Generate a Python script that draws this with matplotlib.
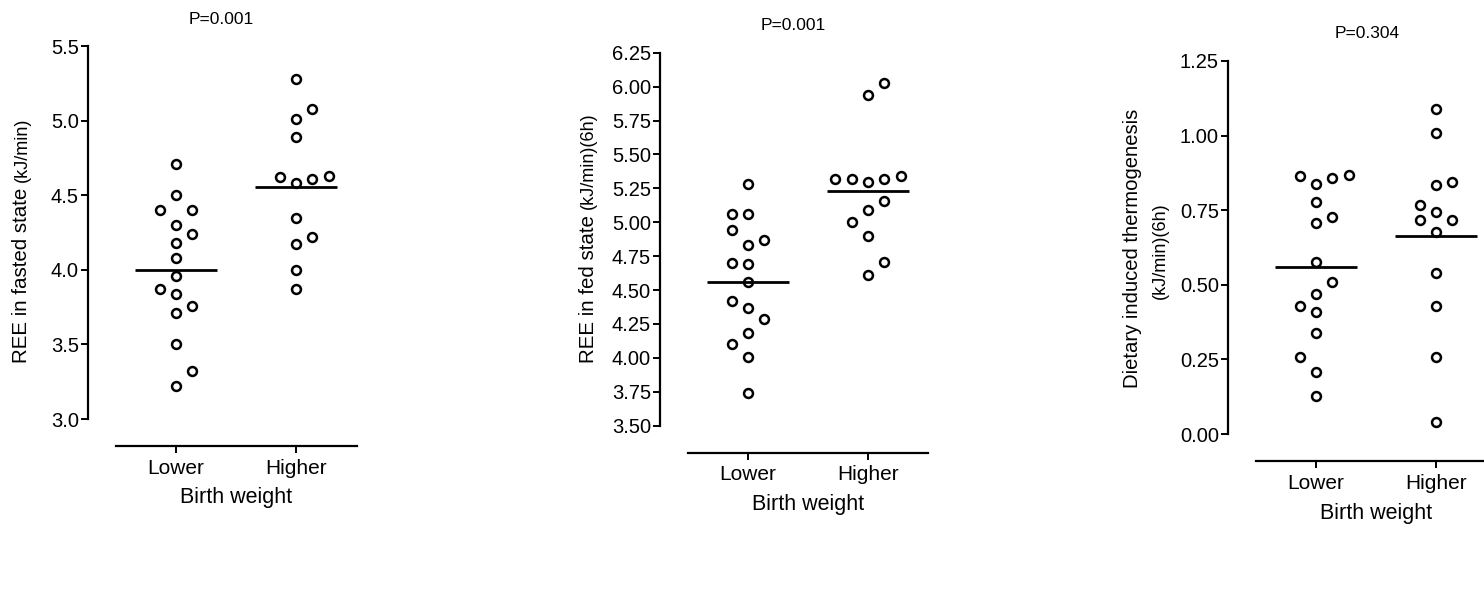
import matplotlib
matplotlib.use('Agg')
import matplotlib.pyplot as plt
import matplotlib.transforms as mtransforms

plt.rcParams['font.family'] = ['Liberation Sans', 'DejaVu Sans']

# ---------------- data ----------------
groups = ['Lower', 'Higher']
xlabel_text = 'Birth weight'

# Panel 1: REE in fasted state (kJ/min)
fasted_lower = [4.71, 4.50, 4.40, 4.40, 4.30, 4.24, 4.18, 4.08, 3.96, 3.87,
                3.84, 3.76, 3.71, 3.50, 3.32, 3.22]
fasted_lower_slots = [0, 0, -1, 1, 0, 1, 0, 0, 0, -1, 0, 1, 0, 0, 1, 0]
fasted_higher = [5.28, 5.08, 5.01, 4.89, 4.62, 4.58, 4.61, 4.63, 4.35, 4.22,
                 4.17, 4.00, 3.87]
fasted_higher_slots = [0, 1, 0, 0, -1, 0, 1, 2, 0, 1, 0, 0, 0]
fasted_means = [4.00, 4.555]
fasted_ticks = [3.0, 3.5, 4.0, 4.5, 5.0, 5.5]
fasted_ticklabels = ['3.0', '3.5', '4.0', '4.5', '5.0', '5.5']
fasted_p = 'P=0.001'

# Panel 2: REE in fed state (kJ/min)(6h)
fed_lower = [5.28, 5.06, 5.06, 4.94, 4.87, 4.83, 4.70, 4.69, 4.56, 4.42,
             4.37, 4.29, 4.18, 4.10, 4.01, 3.74]
fed_lower_slots = [0, -1, 0, -1, 1, 0, -1, 0, 0, -1, 0, 1, 0, -1, 0, 0]
fed_higher = [6.03, 5.94, 5.32, 5.32, 5.30, 5.32, 5.34, 5.16, 5.09, 5.00,
              4.90, 4.71, 4.61]
fed_higher_slots = [1, 0, -2, -1, 0, 1, 2, 1, 0, -1, 0, 1, 0]
fed_means = [4.56, 5.23]
fed_ticks = [3.50, 3.75, 4.00, 4.25, 4.50, 4.75, 5.00, 5.25, 5.50, 5.75, 6.00, 6.25]
fed_ticklabels = ['3.50', '3.75', '4.00', '4.25', '4.50', '4.75', '5.00',
                  '5.25', '5.50', '5.75', '6.00', '6.25']
fed_p = 'P=0.001'

# Panel 3: Dietary induced thermogenesis (kJ/min)(6h)
dit_lower = [0.866, 0.838, 0.857, 0.868, 0.779, 0.708, 0.728, 0.578, 0.508,
             0.469, 0.429, 0.408, 0.340, 0.259, 0.209, 0.127]
dit_lower_slots = [-1, 0, 1, 2, 0, 0, 1, 0, 1, 0, -1, 0, 0, -1, 0, 0]
dit_higher = [1.088, 1.008, 0.834, 0.846, 0.767, 0.745, 0.717, 0.717, 0.678,
              0.538, 0.429, 0.259, 0.039]
dit_higher_slots = [0, 0, 0, 1, -1, 0, -1, 1, 0, 0, 0, 0, 0]
dit_means = [0.559, 0.665]
dit_ticks = [0.00, 0.25, 0.50, 0.75, 1.00, 1.25]
dit_ticklabels = ['0.00', '0.25', '0.50', '0.75', '1.00', '1.25']
dit_p = 'P=0.304'

# ---------------- figure ----------------
W, H = 1484, 601
fig = plt.figure(figsize=(W / 100, H / 100), dpi=100)

SLOT = 0.137          # jitter step in category units
HALF = 0.34           # half-width of mean bar
PX_PER_CAT = 120.0    # pixels between categories


def make_panel(left_px, top_px, right_px, lower, lower_slots, higher, higher_slots,
               means, ticks, ticklabels, ptext, p_px):
    bottom_px = top_px + 373
    ax = fig.add_axes([left_px / W, 1 - bottom_px / H,
                       (right_px - left_px) / W, (bottom_px - top_px) / H])
    xl = -88 / PX_PER_CAT
    xr = xl + (right_px - left_px) / PX_PER_CAT
    ax.set_xlim(xl, xr)
    ax.set_ylim(ticks[0], ticks[-1])
    for gi, (vals, slots) in enumerate([(lower, lower_slots), (higher, higher_slots)]):
        xs = [gi + s * SLOT for s in slots]
        ax.plot(xs, vals, linestyle='none', marker='o', markersize=6.4,
                markerfacecolor='white', markeredgecolor='black',
                markeredgewidth=1.8, clip_on=False, zorder=3)
        ax.plot([gi - HALF, gi + HALF], [means[gi], means[gi]], color='black',
                lw=2.0, solid_capstyle='butt', zorder=4, clip_on=False)
    for s in ['top', 'right']:
        ax.spines[s].set_visible(False)
    ax.spines['left'].set_linewidth(1.6)
    ax.spines['bottom'].set_linewidth(1.6)
    ax.spines['bottom'].set_position(('outward', 19.5))
    ax.spines['bottom'].set_bounds(-0.5, xr)
    ax.set_yticks(ticks)
    ax.set_yticklabels(ticklabels)
    ax.set_xticks([0, 1])
    ax.set_xticklabels(groups)
    ax.tick_params(axis='y', direction='out', length=5, width=1.4, pad=1.5,
                   labelsize=14.5)
    ax.tick_params(axis='x', direction='out', length=5, width=1.4, pad=4,
                   labelsize=15)
    # x-axis title centred between the two categories, ~51 px below bottom spine
    off = mtransforms.ScaledTranslation(0, -(27 + 52) / 100, fig.dpi_scale_trans)
    ax.text((0.5 - xl) / (xr - xl), 0, xlabel_text, transform=ax.transAxes + off,
            ha='center', va='center', fontsize=15.5)
    fig.text(p_px[0] / W, 1 - p_px[1] / H, ptext, ha='center', va='center',
             fontsize=12.5)
    return ax


make_panel(88, 46, 357, fasted_lower, fasted_lower_slots, fasted_higher,
           fasted_higher_slots, fasted_means, fasted_ticks,
           fasted_ticklabels, fasted_p, (221, 20))
make_panel(660, 52.7, 928, fed_lower, fed_lower_slots, fed_higher,
           fed_higher_slots, fed_means, fed_ticks, fed_ticklabels,
           fed_p, (793, 25))
make_panel(1228, 61, 1484, dit_lower, dit_lower_slots, dit_higher,
           dit_higher_slots, dit_means, dit_ticks, dit_ticklabels,
           dit_p, (1367, 33))

# y labels with two font sizes on one line
renderer = fig.canvas.get_renderer()


def two_size_label(x_px, ybottom_px, main, units):
    t = fig.text(x_px / W, 1 - ybottom_px / H, main, rotation=90, ha='center',
                 va='bottom', fontsize=14.8)
    bb = t.get_window_extent(renderer)
    fig.text(x_px / W, (bb.y1 + 6) / H, units, rotation=90, ha='center',
             va='bottom', fontsize=13)


two_size_label(22, 363, 'REE in fasted state', '(kJ/min)')
two_size_label(588, 363, 'REE in fed state', '(kJ/min)(6h)')

fig.text(1132 / W, 1 - 248 / H, 'Dietary induced thermogenesis', rotation=90,
         ha='center', va='center', fontsize=14.6)
fig.text(1160 / W, 1 - 251 / H, '(kJ/min)(6h)', rotation=90,
         ha='center', va='center', fontsize=13)

fig.savefig('out.png', dpi=100, facecolor='white')
